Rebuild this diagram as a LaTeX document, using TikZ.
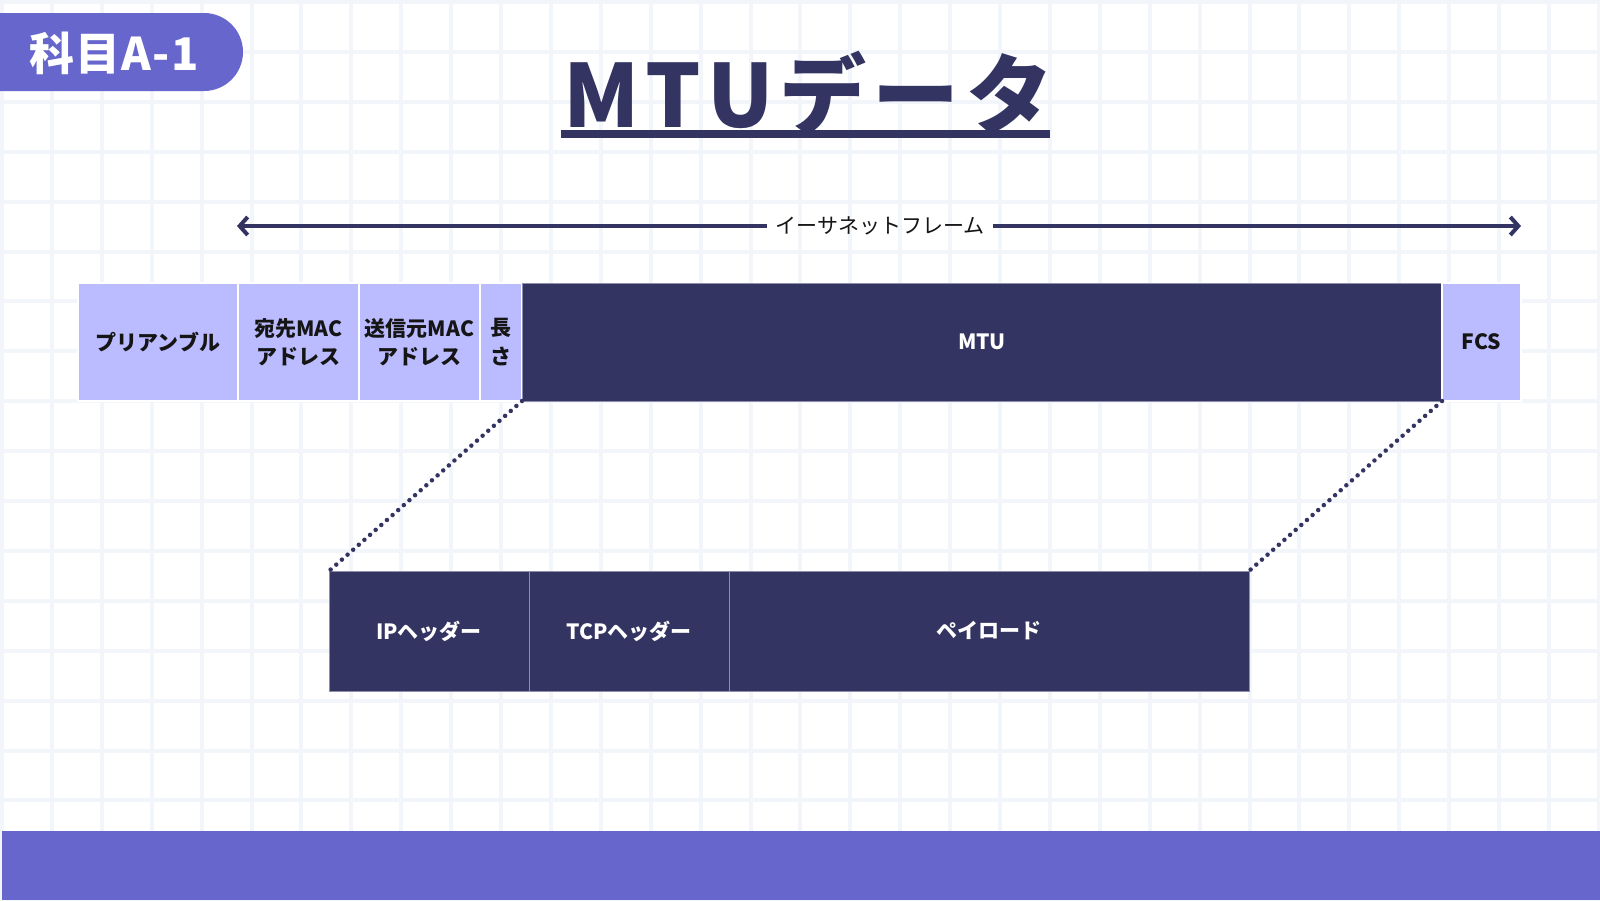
\documentclass[tikz,border=0pt]{standalone}
\usepackage{fontspec}
\setmainfont{Noto Sans CJK JP}
\newfontfamily\titlefont{Noto Sans CJK JP}[LetterSpace=7]
\newfontfamily\tagfont{Noto Sans CJK JP}[LetterSpace=3]
\usetikzlibrary{positioning,arrows.meta}

\definecolor{navy}{HTML}{343462}
\definecolor{lilac}{HTML}{BBBBFF}
\definecolor{violetbar}{HTML}{6666CC}
\definecolor{gridblue}{HTML}{F2F6FB}
\definecolor{inktext}{HTML}{151515}

\tikzset{
  field/.style={rectangle, minimum height=118pt, inner sep=0pt, outer sep=0pt, align=center, font=\fontsize{21}{28.5}\selectfont\bfseries},
  headfield/.style={field, fill=lilac, draw=white, line width=1.5pt, text=inktext},
  datafield/.style={field, fill=navy, draw=white!45!navy, line width=1pt, text=white},
  zoomline/.style={navy, line width=4.5pt, line cap=round, dash pattern=on 0pt off 7.5pt},
  spanarrow/.style={navy, line width=4pt, -{Straight Barb[length=8pt,width=18pt]}}
}

\begin{document}
\begin{tikzpicture}[x=1pt,y=-1pt]
                \useasboundingbox (0,0) rectangle (1600,900);
                \fill[white] (0,0) rectangle (1600,900);
                \foreach \k in {0,...,32} \fill[gridblue] ({\k*49.9},0) rectangle ({\k*49.9+4},900);
                \foreach \k in {0,...,18} \fill[gridblue] (0,{\k*49.9}) rectangle (1600,{\k*49.9+4});

                \fill[violetbar,rounded corners=39pt] (-60,13) rectangle (243,91);
                \node[anchor=base west,inner sep=0pt,text=white,font=\tagfont\fontsize{45}{45}\selectfont\bfseries] (tag) at (29,70) {科目A-1};

                \node[anchor=base west,inner sep=0pt,text=navy,font=\titlefont\fontsize{87}{87}\selectfont\bfseries] (title) at (563,127) {MTUデータ};
                \fill[navy] (561,130) rectangle (1050,138);

                \node[font=\fontsize{21}{21}\selectfont,text=inktext,inner sep=8pt] (framelabel) at (880,226) {イーサネットフレーム};
                \coordinate (frameleft) at (237,226);
                \coordinate (frameright) at (1521,226);
                \draw[spanarrow] (framelabel.west) -- (frameleft);
                \draw[spanarrow] (framelabel.east) -- (frameright);

                \node[headfield,minimum width=160pt,anchor=north west] (preamble) at (78,283) {プリアンブル};
                \node[headfield,minimum width=121pt,right=0pt of preamble] (dstmac) {宛先MAC\\アドレス};
                \node[headfield,minimum width=121pt,right=0pt of dstmac] (srcmac) {送信元MAC\\アドレス};
                \node[headfield,minimum width=42pt,right=0pt of srcmac] (length) {長\\さ};
                \node[datafield,minimum width=920pt,right=0pt of length] (mtu) {MTU};
                \node[headfield,minimum width=79pt,right=0pt of mtu] (fcs) {FCS};

                \node[datafield,minimum width=200pt,minimum height=120pt,anchor=north west] (iphdr) at (329,571) {IPヘッダー};
                \node[datafield,minimum width=200pt,minimum height=120pt,right=0pt of iphdr] (tcphdr) {TCPヘッダー};
                \node[datafield,minimum width=520pt,minimum height=120pt,right=0pt of tcphdr] (payload) {ペイロード};

                \draw[zoomline] (mtu.south west) -- (iphdr.north west);
                \draw[zoomline] (mtu.south east) -- (payload.north east);

                \fill[violetbar] (2,831) rectangle (1600,900);
            \end{tikzpicture}
\end{document}
